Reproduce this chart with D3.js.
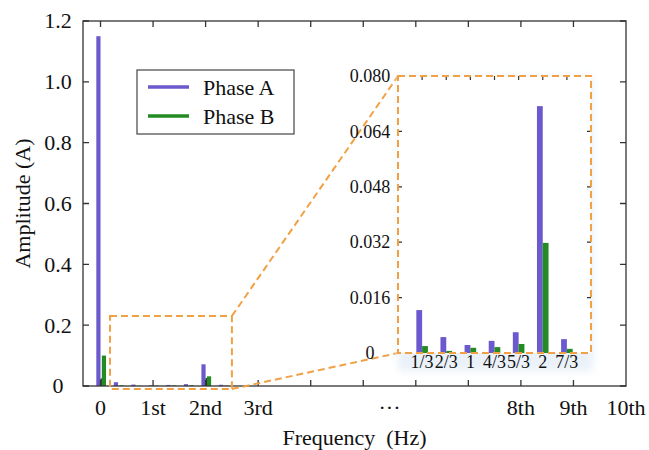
<!DOCTYPE html>
<html>
<head>
<meta charset="utf-8">
<script src="https://cdn.jsdelivr.net/npm/d3@7"></script>
<style>
  body { margin: 0; background: #fff; }
  text { font-family: "Liberation Serif", "Times New Roman", serif; fill: #111; }
</style>
</head>
<body>
<svg id="chart" width="649" height="450"></svg>
<script>
// ----------------------------------------------------------------------------------------------------------------------
// DATA -----------------------------------------------------------------------------------------------------------------
// ----------------------------------------------------------------------------------------------------------------------

// Harmonic positions (in multiples of the fundamental) and their inset labels
var harmonics = [1/3, 2/3, 1, 4/3, 5/3, 2, 7/3];
var harmonicLabels = ["1/3", "2/3", "1", "4/3", "5/3", "2", "7/3"];

// Amplitudes (A) at the harmonics
var phaseA = [0.0124, 0.0046, 0.0023, 0.0035, 0.0060, 0.0713, 0.0040];
var phaseB = [0.0020, 0.0006, 0.0015, 0.0017, 0.0026, 0.0318, 0.0012];
var phaseC = [0, 0, 0, 0, 0, 0.026, 0];

// DC component
var dcA = 1.15, dcB = 0.10, dcC = 0.025;

// Main axis ticks
var yTicks = [0, 0.2, 0.4, 0.6, 0.8, 1.0, 1.2];
var yTickLabels = ["0", "0.2", "0.4", "0.6", "0.8", "1.0", "1.2"];
var xTicks = [0, 1, 2, 3, 4, 5, 6, 7, 8, 9];
var xLabelPos = [0, 1, 2, 3, 5.5, 8, 9, 10];
var xLabels = ["0", "1st", "2nd", "3rd", "\u00b7\u00b7\u00b7", "8th", "9th", "10th"];

// Inset ticks
var insetYTicks = [0, 0.016, 0.032, 0.048, 0.064, 0.080];
var insetYTickLabels = ["0", "0.016", "0.032", "0.048", "0.064", "0.080"];

// Zoomed region (data units of the main chart)
var zoomX = [0.18, 2.5], zoomY = [-0.01, 0.23];

var seriesNames = ["Phase A", "Phase B"];
var colorA = "#6a5acd", colorB = "#228b22", colorC = "#1e2a1e", orange = "#f2a044", axisColor = "#333";

// ----------------------------------------------------------------------------------------------------------------------
// MAIN CHART -----------------------------------------------------------------------------------------------------------
// ----------------------------------------------------------------------------------------------------------------------

var svg = d3.select("#chart");
var mLeft = 83, mRight = 626, mTop = 21, mBottom = 386;

var x = d3.scaleLinear().domain([-1/3, 10]).range([mLeft, mRight]);
var y = d3.scaleLinear().domain([0, 1.2]).range([mBottom, mTop]);
var barW = 0.08, gapW = 0.025;

// Merge DC and harmonics for the main bars
var mainPos = [0].concat(harmonics);
var mainA = [dcA].concat(phaseA);
var mainB = [dcB].concat(phaseB);
var mainC = [dcC].concat(phaseC);

function drawBars(g, xs, ys, pos, vals, off, w, color) {
  g.selectAll(null)
    .data(vals)
    .enter().append("rect")
    .attr("x", function(d, i) { return xs(pos[i] + off); })
    .attr("width", function(d, i) { return xs(pos[i] + off + w) - xs(pos[i] + off); })
    .attr("y", function(d) { return ys(d); })
    .attr("height", function(d) { return ys(0) - ys(d); })
    .attr("fill", color);
}

var bars = svg.append("g");
drawBars(bars, x, y, mainPos, mainA, -barW, barW, colorA);
drawBars(bars, x, y, mainPos, mainB, gapW, barW, colorB);
drawBars(bars, x, y, mainPos, mainC, 0, gapW, colorC);

// Frame with inward ticks ----------------------------------------------------------------------------------------------
var frame = svg.append("g").attr("stroke", axisColor).attr("stroke-width", 1.3).attr("fill", "none");
frame.append("rect").attr("x", mLeft).attr("y", mTop).attr("width", mRight - mLeft).attr("height", mBottom - mTop);

frame.selectAll(".xt").data(xTicks).enter().append("path")
  .attr("d", function(d) { return "M" + x(d) + "," + mBottom + "v-6M" + x(d) + "," + mTop + "v6"; });
frame.selectAll(".yt").data(yTicks).enter().append("path")
  .attr("d", function(d) { return "M" + mLeft + "," + y(d) + "h6M" + mRight + "," + y(d) + "h-6"; });

svg.selectAll(".ylab").data(yTicks).enter().append("text")
  .attr("x", 58).attr("y", function(d) { return y(d); })
  .attr("dy", "0.34em").attr("text-anchor", "middle")
  .style("font-size", "22px")
  .text(function(d, i) { return yTickLabels[i]; });

svg.selectAll(".xlab").data(xLabelPos).enter().append("text")
  .attr("x", function(d) { return x(d); }).attr("y", 415)
  .attr("text-anchor", "middle")
  .style("font-size", "22px")
  .text(function(d, i) { return xLabels[i]; });

svg.append("text")
  .attr("x", (mLeft + mRight) / 2).attr("y", 445)
  .attr("text-anchor", "middle").style("font-size", "22px")
  .attr("xml:space", "preserve")
  .text("Frequency  (Hz)");

svg.append("text")
  .attr("transform", "translate(30," + ((mTop + mBottom) / 2) + ") rotate(-90)")
  .attr("text-anchor", "middle").style("font-size", "22px")
  .text("Amplitude (A)");

// Legend ---------------------------------------------------------------------------------------------------------------
var legend = svg.append("g").attr("transform", "translate(137,70)");
legend.append("rect").attr("width", 157).attr("height", 64)
  .attr("fill", "#fff").attr("stroke", "#444").attr("stroke-width", 1.2);
[colorA, colorB].forEach(function(c, i) {
  legend.append("line").attr("x1", 11).attr("x2", 52).attr("y1", 17 + i * 29).attr("y2", 17 + i * 29)
    .attr("stroke", c).attr("stroke-width", 3.5);
  legend.append("text").attr("x", 66).attr("y", 17 + i * 29).attr("dy", "0.35em")
    .style("font-size", "22px").text(seriesNames[i]);
});

// ----------------------------------------------------------------------------------------------------------------------
// INSET ----------------------------------------------------------------------------------------------------------------
// ----------------------------------------------------------------------------------------------------------------------

var iLeft = 398, iRight = 591, iTop = 76, iBottom = 353;
var xi = d3.scaleLinear().domain([0, 8/3]).range([iLeft, iRight]);
var yi = d3.scaleLinear().domain([0, 0.08]).range([iBottom, iTop]);

// Zoom box and connectors
var dash = "7,4";
var zoom = svg.append("g").attr("stroke", orange).attr("stroke-width", 2).attr("fill", "none")
  .attr("stroke-dasharray", dash);
zoom.append("rect")
  .attr("x", x(zoomX[0])).attr("y", y(zoomY[1]))
  .attr("width", x(zoomX[1]) - x(zoomX[0])).attr("height", y(zoomY[0]) - y(zoomY[1]));
zoom.append("line").attr("x1", x(zoomX[1])).attr("y1", y(zoomY[1])).attr("x2", iLeft).attr("y2", iTop);
zoom.append("line").attr("x1", x(zoomX[1])).attr("y1", y(zoomY[0])).attr("x2", iLeft).attr("y2", iBottom);

// Soft halo round the inset
var defs = svg.append("defs");
var glow = defs.append("filter").attr("id", "halo").attr("x", "-20%").attr("y", "-20%").attr("width", "140%").attr("height", "140%");
glow.append("feGaussianBlur").attr("stdDeviation", 4);

var inset = svg.append("g");
inset.append("rect").attr("x", iLeft).attr("y", iTop).attr("width", iRight - iLeft + 2).attr("height", iBottom - iTop + 18)
  .attr("fill", "#eaf1f9").attr("filter", "url(#halo)");
inset.append("rect").attr("x", iLeft).attr("y", iTop).attr("width", iRight - iLeft).attr("height", iBottom - iTop)
  .attr("fill", "#fff");

drawBars(inset, xi, yi, harmonics, phaseA, -barW, barW, colorA);
drawBars(inset, xi, yi, harmonics, phaseB, 0, barW, colorB);

var iticks = inset.append("g").attr("stroke", axisColor).attr("stroke-width", 1.2);
iticks.selectAll(".t").data(harmonics).enter().append("path")
  .attr("d", function(d) { return "M" + xi(d) + "," + iTop + "v4"; });
iticks.selectAll(".t2").data(insetYTicks.slice(1, -1)).enter().append("path")
  .attr("d", function(d) { return "M" + iLeft + "," + yi(d) + "h4M" + iRight + "," + yi(d) + "h-4"; });

inset.append("rect").attr("x", iLeft).attr("y", iTop).attr("width", iRight - iLeft).attr("height", iBottom - iTop)
  .attr("fill", "none").attr("stroke", orange).attr("stroke-width", 2).attr("stroke-dasharray", dash);

inset.selectAll(".iy").data(insetYTicks).enter().append("text")
  .attr("x", 370).attr("y", function(d) { return yi(d); })
  .attr("dy", "0.34em").attr("text-anchor", "middle")
  .style("font-size", "18px")
  .text(function(d, i) { return insetYTickLabels[i]; });

inset.selectAll(".ix").data(harmonics).enter().append("text")
  .attr("x", function(d) { return xi(d); }).attr("y", 368)
  .attr("text-anchor", "middle")
  .style("font-size", "18px")
  .text(function(d, i) { return harmonicLabels[i]; });
</script>
</body>
</html>
